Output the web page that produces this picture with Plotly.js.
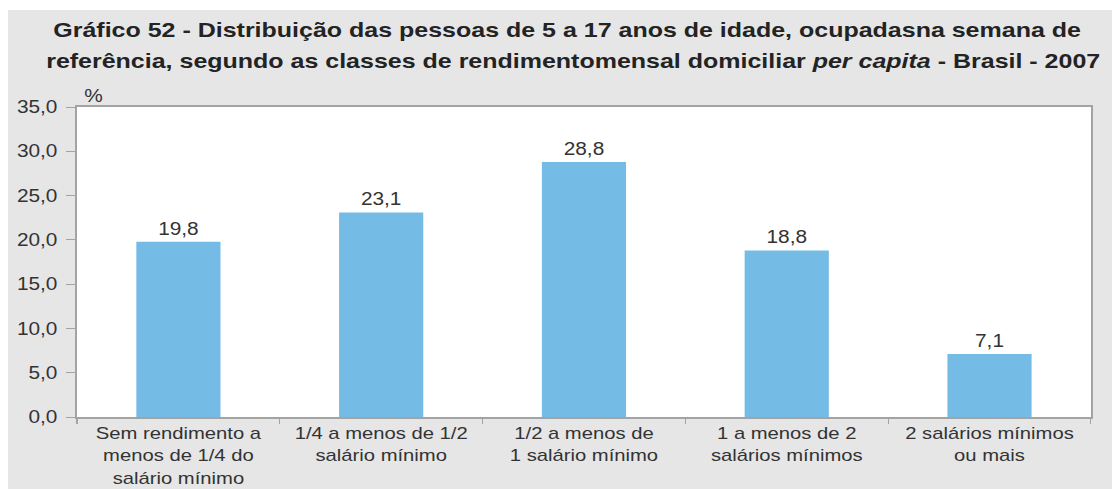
<!DOCTYPE html>
<html>
<head>
<meta charset="utf-8">
<script src="https://cdn.plot.ly/plotly-3.0.1.min.js"></script>
<style>
  html, body { margin: 0; padding: 0; background: #ffffff; width: 1112px; height: 489px; overflow: hidden; }
  #wrap { position: absolute; left: 8px; top: 10px; width: 1104px; height: 479px; background: #e6e6e7; overflow: hidden; }
  #chart { position: absolute; left: 0; top: 0; transform-origin: 0 0; }
</style>
</head>
<body>
<div id="wrap"><div id="chart"></div></div>
<script>
const categories = [
  "Sem rendimento a<br>menos de 1/4 do<br>salário mínimo",
  "1/4 a menos de 1/2<br>salário mínimo",
  "1/2 a menos de<br>1 salário mínimo",
  "1 a menos de 2<br>salários mínimos",
  "2 salários mínimos<br>ou mais"
];
const values = [19.8, 23.1, 28.8, 18.8, 7.1];
const yTicks = [0, 5, 10, 15, 20, 25, 30, 35];
const titleLines = [
  "<b>Gráfico 52 - Distribuição das pessoas de 5 a 17 anos de idade, ocupadasna semana de</b>",
  "<b>referência, segundo as classes de rendimentomensal domiciliar <i>per capita</i> - Brasil - 2007</b>"
];

// the reference image is horizontally stretched; reproduce by scaling the whole chart in x
const SX = 1.19;
const FULLW = 1104, H = 479;
const W = FULLW / SX;
const chartDiv = document.getElementById("chart");
chartDiv.style.width = W + "px";
chartDiv.style.height = H + "px";
chartDiv.style.transform = "scaleX(" + SX + ")";

const L = 69 / SX, R = 21 / SX, T = 97, B = 72;
const plotW = W - L - R;
const frameColor = "#a3a3a3";
const textColor = "#333333";
const labelFont = { family: "Liberation Sans, Arial, Helvetica, sans-serif", size: 17.5, color: textColor };
const xTickFont = { family: "Liberation Sans, Arial, Helvetica, sans-serif", size: 17, color: textColor };
const titleFont = { family: "Liberation Sans, Arial, Helvetica, sans-serif", size: 21, color: "#232323" };

const trace = {
  type: "bar",
  x: categories,
  y: values,
  width: 0.415,
  marker: { color: "#74bbe6", line: { width: 0 } },
  texttemplate: "%{y:.1f}",
  textposition: "outside",
  textfont: labelFont,
  cliponaxis: false,
  hoverinfo: "skip"
};

// convert a horizontal page position inside the wrap to a paper fraction
const px2paper = p => ((p / SX) - L) / plotW;

const layout = {
  width: W,
  height: H,
  separators: ",.",
  paper_bgcolor: "#e6e6e7",
  plot_bgcolor: "#ffffff",
  margin: { l: L, r: R, t: T, b: B, pad: 0 },
  showlegend: false,
  xaxis: {
    type: "category",
    showline: true, linecolor: frameColor, linewidth: 2, mirror: true,
    ticks: "outside", tickson: "boundaries", ticklen: 5, tickcolor: frameColor, tickwidth: 1,
    tickfont: xTickFont,
    showgrid: false, zeroline: false,
    fixedrange: true
  },
  yaxis: {
    range: [0, 35],
    tickvals: yTicks,
    tickformat: ".1f",
    showline: true, linecolor: frameColor, linewidth: 2, mirror: true,
    ticks: "outside", ticklen: 7, tickcolor: frameColor, tickwidth: 1,
    ticklabelstandoff: 4,
    tickfont: labelFont,
    showgrid: false, zeroline: false,
    fixedrange: true
  },
  annotations: [
    {
      text: titleLines[0],
      xref: "paper", yref: "paper",
      x: px2paper(559), y: 1, xanchor: "center", yanchor: "middle",
      yshift: 78,
      showarrow: false,
      font: titleFont
    },
    {
      text: titleLines[1],
      xref: "paper", yref: "paper",
      x: px2paper(565), y: 1, xanchor: "center", yanchor: "middle",
      yshift: 47,
      showarrow: false,
      font: titleFont
    },
    {
      text: "%",
      xref: "paper", yref: "paper",
      x: 0, y: 1, xanchor: "left", yanchor: "bottom",
      xshift: 4, yshift: -1,
      showarrow: false,
      font: labelFont
    }
  ]
};

Plotly.newPlot("chart", [trace], layout, { displayModeBar: false, staticPlot: true });
</script>
</body>
</html>
